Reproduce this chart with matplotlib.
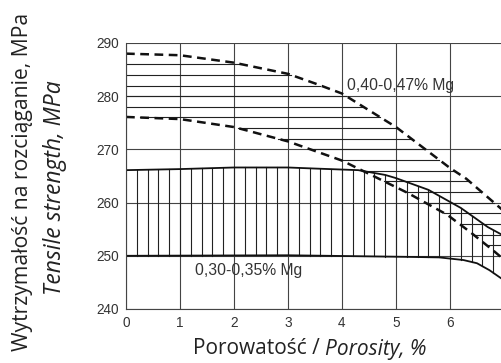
import numpy as np
import matplotlib.pyplot as plt

# upper band (0,40-0,47% Mg), dashed boundaries
hi_x = [0, 1, 2, 3, 3.5, 4, 5, 6, 6.3, 7.5]
hi_top = [288, 287.7, 286.3, 284.2, 282.4, 280.5, 274.2, 266.5, 264.5, 254]
lo_x = [0, 1, 2, 3, 4, 4.66, 5.22, 5.95, 6.37, 6.8, 7.5]
hi_bot = [276.1, 275.7, 274.2, 271.5, 267.9, 264.6, 261.8, 257.7, 254.5, 251, 245]

# lower band (0,30-0,35% Mg), solid boundaries
mg_x = [0, 1, 2, 3, 3.5, 4.3, 4.8, 5.0, 5.6, 6.2, 6.7, 6.9, 7.5]
mg_top = [266.1, 266.3, 266.6, 266.6, 266.4, 266.1, 265.2, 264.6, 262.4, 259, 255.4, 254.3, 251]
bt_x = [0, 3, 5.2, 5.8, 6.25, 6.5, 6.73, 6.9, 7.2]
mg_bot = [250, 250.1, 249.8, 249.7, 249.2, 248.6, 247.3, 246.1, 244]

label_hi = "0,40-0,47% Mg"
label_lo = "0,30-0,35% Mg"

W, H = 502, 363
fig = plt.figure(figsize=(W / 100, H / 100), dpi=100)
ax = fig.add_axes([126 / W, 54 / H, 8 * 54 / W, 266 / H])
ax.set_xlim(0, 8)
ax.set_ylim(240, 290)
ax.set_xticks(range(0, 9))
ax.set_yticks(range(240, 291, 10))
ax.grid(True, color="#444444", lw=0.8)
ax.tick_params(length=0, labelsize=9.8, labelcolor="#333333", pad=5)
for lab in ax.get_xticklabels() + ax.get_yticklabels():
    lab.set_family("Liberation Sans")
for s in ["top", "right"]:
    ax.spines[s].set_visible(False)
for s in ["left", "bottom"]:
    ax.spines[s].set_color("#444444")
    ax.spines[s].set_linewidth(0.8)

# horizontal hatching between the dashed curves
fine = np.linspace(0, 7.5, 600)
top_f = np.interp(fine, hi_x, hi_top)
bot_f = np.interp(fine, lo_x, hi_bot)
for yy in np.arange(252, 288, 2):
    inside = (bot_f <= yy) & (top_f >= yy)
    if inside.any():
        xs = fine[inside]
        ax.plot([xs.min(), xs.max()], [yy, yy], color="#222222", lw=0.8)

# vertical hatching between the solid curves
for xx in np.arange(0.2, 7.0, 0.2):
    ax.plot([xx, xx], [np.interp(xx, bt_x, mg_bot), np.interp(xx, mg_x, mg_top)],
            color="#222222", lw=0.8)

ax.plot(mg_x, mg_top, color="#111111", lw=1.3)
ax.plot(bt_x, mg_bot, color="#111111", lw=1.3)
ax.plot(hi_x, hi_top, color="#111111", lw=1.8, dashes=(3.5, 2.2))
ax.plot(lo_x, hi_bot, color="#111111", lw=1.8, dashes=(3.5, 2.2))

ax.text(4.09, 282.1, label_hi, fontsize=11.3, family="Liberation Sans",
        color="#333333", va="center", ha="left")
ax.text(1.28, 247.3, label_lo, fontsize=11.3, family="Liberation Sans",
        color="#333333", va="center", ha="left")

t1 = fig.text(193 / W, 14 / H, "Porowatość / ", fontsize=15, family="Open Sans",
              color="#222222", ha="left", va="center")
fig.text(23 / W, 0.5, "Wytrzymałość na rozciąganie, MPa", fontsize=15.2,
         family="Open Sans", color="#222222", rotation=90, ha="center", va="center")
fig.text(55 / W, 0.483, "Tensile strength, MPa", fontsize=16.5, style="italic",
         family="Open Sans", color="#222222", rotation=90, ha="center", va="center")

# italic part of the x label placed right after the upright part
fig.canvas.draw()
bb = t1.get_window_extent()
fig.text(bb.x1 / W, 14 / H, "Porosity, %", fontsize=15, family="Open Sans",
         style="italic", color="#222222", ha="left", va="center")

fig.savefig("out.png", dpi=100)
